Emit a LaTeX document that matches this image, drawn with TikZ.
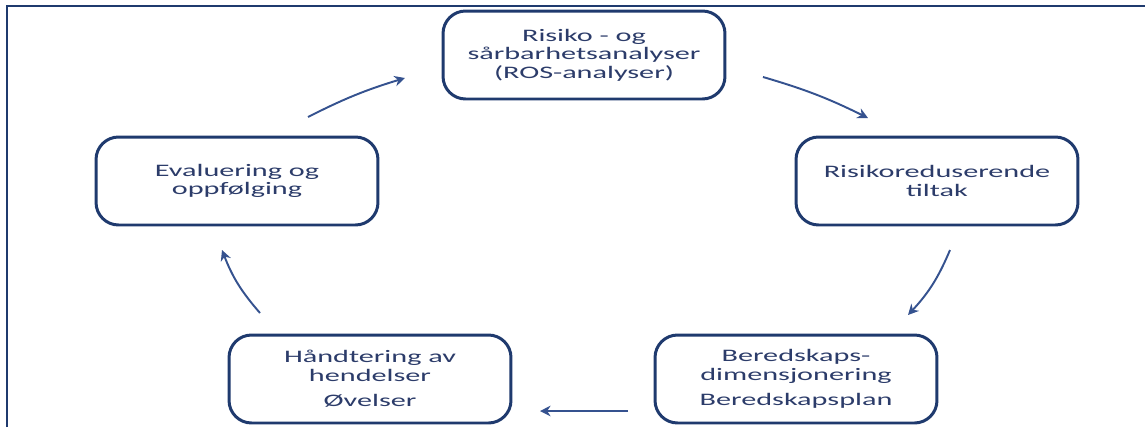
\documentclass[tikz,border=0pt]{standalone}
\usepackage{fontspec}
\newfontfamily\boxfont[FakeStretch=1.72]{Carlito}
\usetikzlibrary{arrows.meta}
\definecolor{rosnavy}{HTML}{1F3A6E}
\definecolor{rostext}{HTML}{2C3C6A}
\definecolor{rosarrow}{HTML}{35528F}

\begin{document}
\begin{tikzpicture}[x=0.02cm, y=-0.02cm,
	box/.style={draw=rosnavy, line width=1.7pt, rounded corners=0.45cm, fill=white,
		minimum width=5.64cm, minimum height=1.76cm, align=center, text=rostext,
		font=\boxfont\fontsize{10}{10.5}\selectfont},
	pil/.style={draw=rosarrow, line width=1.1pt, -{Stealth[length=6pt,width=6pt]}}]
	\useasboundingbox (0,0) rectangle (1145,427);
	% frame
	\draw[rosnavy, line width=1.2pt] (7,427) -- (7,6) -- (1145,6);
	% boxes
	\node[box] (ros) at (584,55) {Risiko - og\\sårbarhetsanalyser\\(ROS-analyser)};
	\node[box] (tiltak) at (937,181) {Risikoreduserende\\tiltak};
	\node[box] (beredskap) at (796,379) {Beredskaps-\\dimensjonering\\[4pt]Beredskapsplan};
	\node[box] (hendelser) at (370,379) {Håndtering av\\hendelser\\[4pt]Øvelser};
	\node[box] (evaluering) at (237,181) {Evaluering og\\oppfølging};
	% arrow ends
	\coordinate (a1) at (308,117); \coordinate (b1) at (405,78);
	\coordinate (a2) at (763,77);  \coordinate (b2) at (868,118);
	\coordinate (a3) at (950,250); \coordinate (b3) at (908,315);
	\coordinate (a4) at (628,411); \coordinate (b4) at (540,411);
	\coordinate (a5) at (260,313); \coordinate (b5) at (222,250);
	\draw[pil] (a1) to[bend left=5] (b1);
	\draw[pil] (a2) to[bend left=5] (b2);
	\draw[pil] (a3) to[bend left=10] (b3);
	\draw[pil] (a4) -- (b4);
	\draw[pil] (a5) to[bend left=10] (b5);
\end{tikzpicture}
\end{document}
